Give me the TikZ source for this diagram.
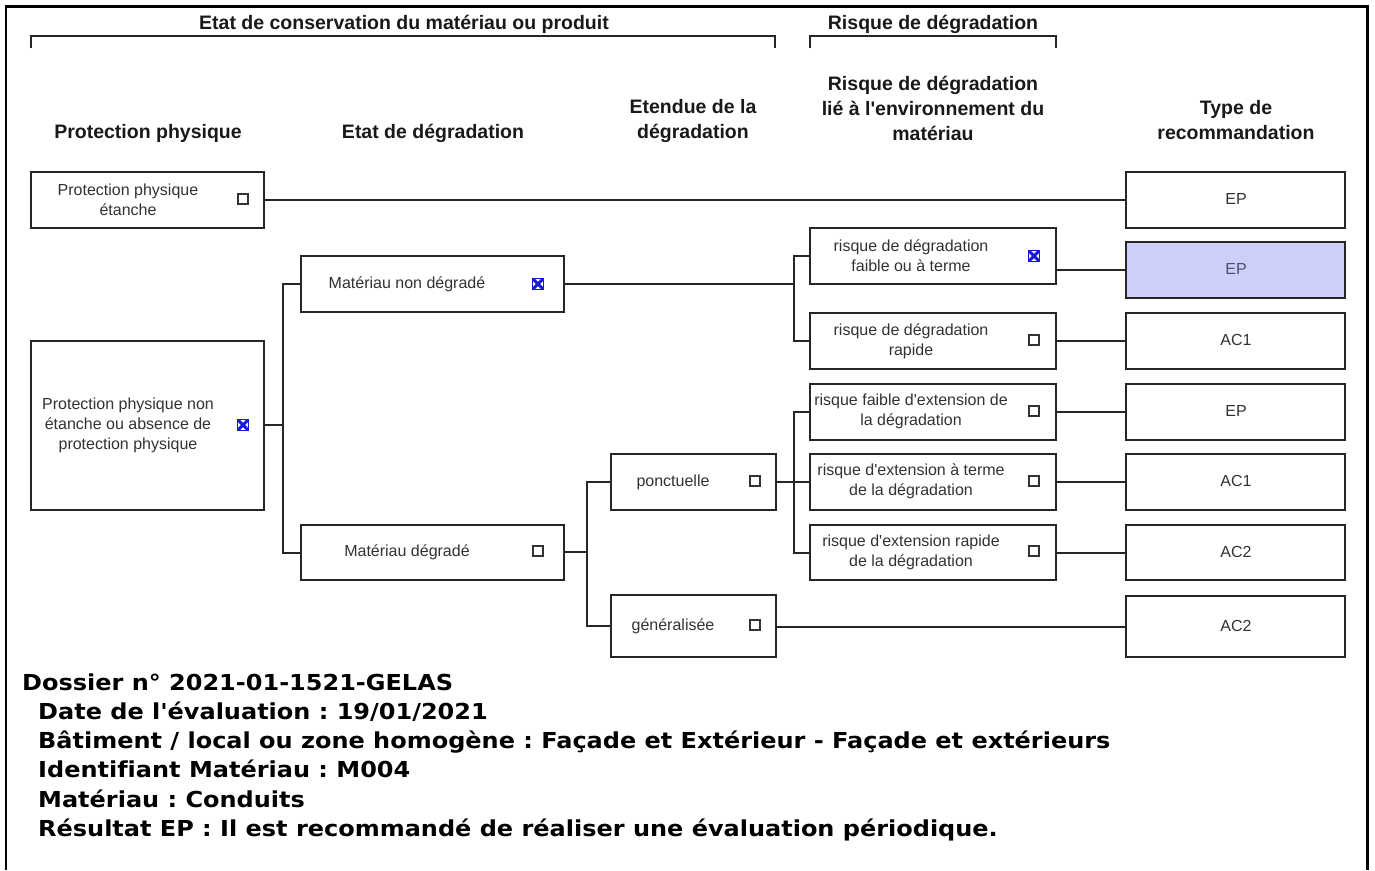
\documentclass[tikz,border=0pt]{standalone}
\usepackage{fontspec}
\setmainfont{Liberation Sans}
\newfontfamily\lib{Liberation Sans}
\newfontfamily\verd[FakeStretch=1.09,Ligatures=NoCommon]{DejaVu Sans}
\usetikzlibrary{calc}
\definecolor{txt}{RGB}{50,50,50}
\definecolor{hdrc}{RGB}{25,25,25}
\definecolor{hl}{RGB}{206,206,250}
\definecolor{mk}{RGB}{25,25,215}
\begin{document}
\frenchspacing
\begin{tikzpicture}[x=1pt,y=-1pt,
  box/.style={draw=black!85, line width=2pt, rectangle, inner sep=0pt},
  lbl/.style={font=\lib\fontsize{16}{20}\selectfont, text=txt, align=center, inner sep=0pt},
  hdr/.style={font=\lib\fontsize{19.5}{25}\selectfont\bfseries, text=hdrc, align=center, inner sep=0pt},
  chk/.style={draw=black!80, line width=1.3pt, minimum size=10pt, inner sep=0pt},
  chkx/.style={draw=mk, line width=1.5pt, minimum size=11pt, inner sep=0pt,
    path picture={\draw[mk, line width=3pt] (path picture bounding box.south west) -- (path picture bounding box.north east) (path picture bounding box.north west) -- (path picture bounding box.south east);}},
  wire/.style={draw=black!85, line width=2pt},
  info/.style={font=\verd\fontsize{22}{29}\selectfont\bfseries, anchor=base west, inner sep=0pt}]
\useasboundingbox (0,0) rectangle (1375,870);
% frame
\draw[line width=2.6pt] (6,870) -- (6,6.5) -- (1367.5,6.5) -- (1367.5,870);
% brackets
\coordinate (br1a) at (31,48); \coordinate (br1b) at (775,48);
\coordinate (br2a) at (810,48); \coordinate (br2b) at (1056,48);
\draw[wire] (br1a) -- ++(0,-12) -| (br1b);
\draw[wire] (br2a) -- ++(0,-12) -| (br2b);
\node[hdr] (t1) at (404,24) {Etat de conservation du matériau ou produit};
\node[hdr] (t2) at (933,24) {Risque de dégradation};
% column headers
\node[hdr] (h1) at (148,133) {Protection physique};
\node[hdr] (h2) at (433,133) {Etat de dégradation};
\node[hdr] (h3) at (693,120.5) {Etendue de la\\dégradation};
\node[hdr] (h4) at (933,108) {Risque de dégradation\\lié à l'environnement du\\matériau};
\node[hdr] (h5) at (1236,120.5) {Type de\\recommandation};
% column A
\node[box, minimum width=233pt, minimum height=56pt] (a1) at (147.5,200) {};
\node[lbl] (a1t) at (128,200) {Protection physique\\étanche};
\node[chk] (a1c) at (243,199) {};
\node[box, minimum width=233pt, minimum height=169pt] (a2) at (147.5,425.5) {};
\node[lbl] (a2t) at (128,425) {Protection physique non\\étanche ou absence de\\protection physique};
\node[chkx] (a2c) at (243,425) {};
% column B
\node[box, minimum width=263pt, minimum height=56pt] (b1) at (432.5,284) {};
\node[lbl] (b1t) at (407,284) {Matériau non dégradé};
\node[chkx] (b1c) at (538,284) {};
\node[box, minimum width=263pt, minimum height=55pt] (b2) at (432.5,552.5) {};
\node[lbl] (b2t) at (407,552) {Matériau dégradé};
\node[chk] (b2c) at (538,551) {};
% column C
\node[box, minimum width=165pt, minimum height=56pt] (c1) at (693.5,482) {};
\node[lbl] (c1t) at (673,482) {ponctuelle};
\node[chk] (c1c) at (755,481) {};
\node[box, minimum width=165pt, minimum height=62pt] (c2) at (693.5,626) {};
\node[lbl] (c2t) at (673,626) {généralisée};
\node[chk] (c2c) at (755,625) {};
% column D
\node[box, minimum width=246pt, minimum height=56pt] (d1) at (933,256) {};
\node[lbl] (d1t) at (911,256) {risque de dégradation\\faible ou à terme};
\node[chkx] (d1c) at (1034,256) {};
\node[box, minimum width=246pt, minimum height=56pt] (d2) at (933,341) {};
\node[lbl] (d2t) at (911,341) {risque de dégradation\\rapide};
\node[chk] (d2c) at (1034,340) {};
\node[box, minimum width=246pt, minimum height=56pt] (d3) at (933,412) {};
\node[lbl] (d3t) at (911,411) {risque faible d'extension de\\la dégradation};
\node[chk] (d3c) at (1034,411) {};
\node[box, minimum width=246pt, minimum height=56pt] (d4) at (933,482) {};
\node[lbl] (d4t) at (911,481) {risque d'extension à terme\\de la dégradation};
\node[chk] (d4c) at (1034,481) {};
\node[box, minimum width=246pt, minimum height=55pt] (d5) at (933,552.5) {};
\node[lbl] (d5t) at (911,552) {risque d'extension rapide\\de la dégradation};
\node[chk] (d5c) at (1034,551) {};
% column E
\node[box, minimum width=219pt, minimum height=56pt] (e1) at (1235.5,200) {};
\node[lbl] (e1t) at (1236,199) {EP};
\node[box, fill=hl, minimum width=219pt, minimum height=56pt] (e2) at (1235.5,270) {};
\node[lbl, text={rgb,255:red,80;green,80;blue,110}] (e2t) at (1236,269) {EP};
\node[box, minimum width=219pt, minimum height=56pt] (e3) at (1235.5,341) {};
\node[lbl] (e3t) at (1236,340) {AC1};
\node[box, minimum width=219pt, minimum height=56pt] (e4) at (1235.5,412) {};
\node[lbl] (e4t) at (1236,411) {EP};
\node[box, minimum width=219pt, minimum height=56pt] (e5) at (1235.5,482) {};
\node[lbl] (e5t) at (1236,481) {AC1};
\node[box, minimum width=219pt, minimum height=55pt] (e6) at (1235.5,552.5) {};
\node[lbl] (e6t) at (1236,552) {AC2};
\node[box, minimum width=219pt, minimum height=61pt] (e7) at (1235.5,626.5) {};
\node[lbl] (e7t) at (1236,626) {AC2};
% junctions
\coordinate (j1) at (283,425);
\coordinate (j2) at (794,284);
\coordinate (j3) at (587,552);
\coordinate (j4) at (794,482);
% connectors
\draw[wire] (a1.east) -- (e1.west);
\draw[wire] (a2.east |- j1) -- (j1);
\draw[wire] (b1.west) -| (j1) |- (b2.west);
\draw[wire] (b1.east) -- (j2);
\draw[wire] (d1.west) -| (j2) |- (d2.west);
\draw[wire] (d1.east |- e2.west) -- (e2.west);
\draw[wire] (d2.east) -- (e3.west);
\draw[wire] (b2.east |- j3) -- (j3);
\draw[wire] (c1.west) -| (j3) |- (c2.west);
\draw[wire] (c1.east) -- (j4);
\draw[wire] (d3.west) -| (j4) |- (d5.west);
\draw[wire] (j4) -- (d4.west);
\draw[wire] (d3.east) -- (e4.west);
\draw[wire] (d4.east) -- (e5.west);
\draw[wire] (d5.east |- e6.west) -- (e6.west);
\draw[wire] (c2.east |- e7.west) -- (e7.west);
% info text
\node[info] (i1) at (22,690) {Dossier n° 2021-01-1521-GELAS};
\node[info] (i2) at (38,719.3) {Date de l'évaluation : 19/01/2021};
\node[info] (i3) at (38,748.6) {Bâtiment / local ou zone homogène : Façade et Extérieur - Façade et extérieurs};
\node[info] (i4) at (38,777.9) {Identifiant Matériau : M004};
\node[info] (i5) at (38,807.2) {Matériau : Conduits};
\node[info] (i6) at (38,836.5) {Résultat EP : Il est recommandé de réaliser une évaluation périodique.};
\end{tikzpicture}
\end{document}
